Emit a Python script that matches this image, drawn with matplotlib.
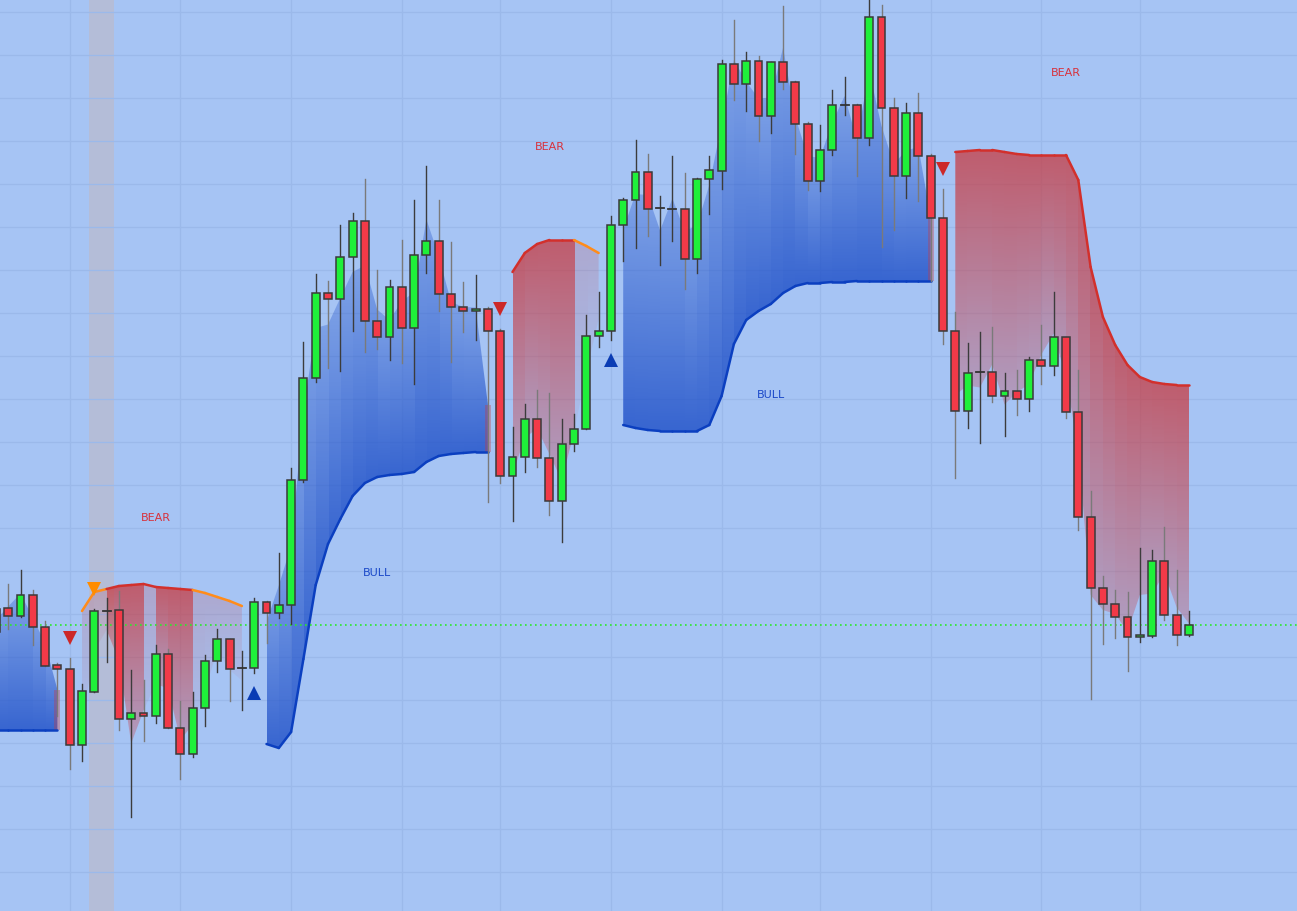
import numpy as np
import matplotlib
matplotlib.use("Agg")
import matplotlib.pyplot as plt
from matplotlib.patches import Rectangle, Polygon
from matplotlib.colors import to_rgb

# candles, bar index -1 .. 96
bars = list(range(-1, 97))
opens = [367, 391, 383, 404, 372, 334, 330, 254, 307, 388, 389, 280, 286, 283, 345, 271,
         245, 291, 338, 360, 331, 331, 397, 386, 394, 519, 621, 706, 700, 742, 778, 678,
         662, 712, 671, 744, 758, 705, 692, 688, 690, 668, 523, 542, 580, 541, 498, 555,
         570, 663, 668, 774, 799, 827, 791, 790, 790, 740, 820, 828, 935, 915, 938, 883,
         937, 917, 875, 818, 849, 894, 894, 861, 982, 891, 823, 886, 843, 781, 668, 588,
         627, 627, 603, 608, 600, 639, 633, 662, 587, 482, 411, 395, 382, 362, 363, 438,
         384, 364]
highs = [398, 415, 429, 409, 378, 336, 341, 315, 390, 401, 408, 329, 319, 354, 350, 298,
         307, 344, 370, 360, 348, 401, 398, 446, 531, 657, 725, 718, 774, 786, 820, 729,
         719, 759, 799, 833, 799, 757, 717, 724, 692, 670, 572, 595, 609, 606, 580, 585,
         684, 707, 783, 801, 859, 845, 803, 843, 826, 821, 843, 939, 979, 947, 943, 937,
         993, 918, 877, 874, 909, 922, 895, 1002, 994, 901, 896, 906, 845, 810, 687, 656,
         667, 672, 626, 629, 642, 674, 707, 662, 629, 508, 423, 409, 407, 451, 449, 472,
         429, 388]
lows = [360, 370, 382, 354, 333, 283, 230, 238, 307, 337, 269, 182, 258, 276, 271, 220,
        242, 273, 327, 298, 289, 326, 356, 381, 375, 517, 617, 631, 628, 668, 647, 650,
        639, 636, 615, 726, 688, 637, 667, 659, 497, 516, 478, 527, 532, 484, 457, 548,
        570, 652, 659, 738, 751, 763, 734, 758, 710, 726, 785, 810, 899, 888, 858, 866,
        910, 845, 809, 808, 844, 884, 823, 854, 752, 769, 801, 798, 718, 655, 521, 571,
        556, 597, 563, 584, 588, 615, 624, 581, 469, 300, 355, 361, 328, 357, 362, 379,
        354, 363]
closes = [390, 383, 404, 372, 333, 330, 254, 308, 388, 388, 280, 286, 283, 345, 271, 245,
          291, 338, 360, 330, 331, 397, 386, 394, 519, 621, 706, 700, 742, 778, 678, 662,
          712, 671, 744, 758, 705, 692, 688, 690, 668, 523, 542, 580, 541, 498, 555, 570,
          663, 668, 774, 799, 827, 790, 791, 790, 740, 820, 829, 935, 915, 938, 883, 937,
          917, 875, 818, 849, 894, 894, 861, 982, 891, 823, 886, 843, 781, 668, 588, 626,
          627, 603, 608, 600, 639, 633, 662, 587, 482, 411, 395, 382, 362, 364, 438, 384,
          364, 374]

# trailing trend lines: (direction, first bar, values)
trend_runs = [
    ("bull", -1, [269, 269, 269, 269, 269, 269]),
    ("bear", 6, [388, 407, 410, 413, 414, 415, 412, 411, 410, 409, 406, 402, 398, 393]),
    ("bull", 21, [255, 251, 267, 340, 414, 455, 480, 503, 516, 522, 524, 525, 527, 537,
                  543, 545, 546, 547, 547]),
    ("bear", 41, [727, 746, 755, 759, 759, 759, 753, 746]),
    ("bull", 50, [574, 571, 569, 568, 568, 568, 568, 574, 603, 655, 679, 688, 695, 706,
                  713, 716, 716, 717, 717, 718, 718, 718, 718, 718, 718, 718]),
    ("bear", 77, [847, 848, 849, 849, 847, 845, 844, 844, 844, 844, 819, 732, 682, 654,
                  634, 622, 617, 615, 614, 614]),
]
weak_bars = [7, 8, 16, 17, 18, 19, 47, 48]   # orange line, faint fill
faded_bars = [12]                            # faint fill only

bull_signals = [20, 49]
bear_signals = [5, 40, 76]
weak_signals = [7]
highlight = (6.6, 8.6)
last_price = 374

labels = [("BEAR", 12, 482), ("BEAR", 44, 853), ("BEAR", 86, 927),
          ("BULL", 30, 427), ("BULL", 62, 605)]

bg = "#a6c4f4"
green, red = "#1ff03a", "#f23a48"
bull_rgb, bear_rgb = to_rgb("#1f50c8"), to_rgb("#c83a40")

o = dict(zip(bars, opens))
h = dict(zip(bars, highs))
l = dict(zip(bars, lows))
c = dict(zip(bars, closes))
hl2 = {b: (h[b] + l[b]) / 2 for b in bars}

fig = plt.figure(figsize=(12.97, 9.12), dpi=100, facecolor=bg)
ax = fig.add_axes([0, 0, 1, 1], facecolor=bg)

ax.axvspan(*highlight, color="#b4bdd8", zorder=0.5, lw=0)


def run_fill(kind, start, vals):
    # one gradient image per run, each bar segment shaded from the line to hl2
    bull = kind == "bull"
    n = len(vals) - 1
    far = [hl2[start + i] for i in range(n + 1)]
    ymin = min(vals + far) - 2
    ymax = max(vals + far) + 2
    per = 24
    xs = start + (np.arange(n * per) + 0.5) / per
    ys = np.linspace(ymin, ymax, int((ymax - ymin) * 2))
    img = np.zeros((len(ys), len(xs), 4))
    img[..., :3] = bull_rgb if bull else bear_rgb
    for j, x in enumerate(xs):
        i = min(int(x - start), n - 1)
        b1 = start + i + 1
        near = min(vals[i], vals[i + 1]) if bull else max(vals[i], vals[i + 1])
        fr = max(far[i], far[i + 1]) if bull else min(far[i], far[i + 1])
        if bull:
            an, af = 0.82, 0.3
        elif b1 in weak_bars:
            an, af = 0.2, 0.05
        elif b1 in faded_bars:
            an, af = 0.22, 0.06
        else:
            an, af = 0.75, 0.28
        t = np.clip((ys - near) / (fr - near), 0, 1)
        img[:, j, 3] = an + (af - an) * t
    im = ax.imshow(img, extent=[start, start + n, ymin, ymax], origin="lower",
                   aspect="auto", interpolation="nearest", zorder=2)
    pts = [(start + i, v) for i, v in enumerate(vals)]
    pts += [(start + i, f) for i, f in reversed(list(enumerate(far)))]
    im.set_clip_path(Polygon(pts, closed=True, transform=ax.transData))


for kind, start, vals in trend_runs:
    bull = kind == "bull"
    run_fill(kind, start, vals)
    for i in range(len(vals) - 1):
        b1 = start + i + 1
        if bull:
            col = "#0b3fc0"
        elif b1 in weak_bars:
            col = "#ff8c1a"
        else:
            col = "#d2302c"
        ax.plot([b1 - 1, b1], [vals[i], vals[i + 1]], color=col, lw=1.8,
                solid_capstyle="round", zorder=3)
    if bull:
        end = start + len(vals) - 1
        if end + 1 in bear_signals:
            ax.add_patch(Rectangle((end - 0.25, vals[-1]), 0.5, hl2[end] - vals[-1],
                                   color=bear_rgb, alpha=0.35, lw=0, zorder=2.5))

ax.axhline(last_price, color="#2bea2b", lw=1.2, ls=(0, (1, 2)), zorder=3.5)

# candles
w = 0.64
for b in bars:
    up = c[b] > o[b]
    doji = c[b] == o[b]
    wick = "#3c3c3c" if (up or doji) else "#7a7a7a"
    ax.plot([b, b], [l[b], h[b]], color=wick, lw=1, zorder=4)
    if doji:
        ax.plot([b - w / 2, b + w / 2], [o[b], o[b]], color="#333333", lw=1.3, zorder=5)
    else:
        ax.add_patch(Rectangle((b - w / 2, min(o[b], c[b])), w, abs(c[b] - o[b]),
                               facecolor=green if up else red, edgecolor="#3a3a3a",
                               lw=1.1, zorder=5))

for b in bear_signals:
    ax.plot(b, h[b] + 20, marker="v", color="#cc2828", ms=10.5, mew=0, zorder=6)
for b in weak_signals:
    ax.plot(b, h[b] + 20, marker="v", color="#ff8c00", ms=10.5, mew=0, zorder=6)
for b in bull_signals:
    ax.plot(b, l[b] - 20, marker="^", color="#0a3cb4", ms=10.5, mew=0, zorder=6)

for txt, b, y in labels:
    ax.text(b, y, txt, color="#d8303a" if txt == "BEAR" else "#1a48c8", fontsize=8,
            ha="center", va="center", zorder=6)

# grid
ax.set_xticks([5, 14, 23, 32, 40, 49, 58, 66, 75, 84, 92])
ax.set_yticks(np.arange(127, 1000, 43))
ax.grid(color="#9bb9ea", lw=0.9, zorder=0)
ax.set_axisbelow(True)
ax.tick_params(length=0, labelbottom=False, labelleft=False)
for s in ax.spines.values():
    s.set_visible(False)

ax.set_xlim(-0.667, 104.78)
ax.set_ylim(88, 1000)

fig.savefig("out.png", dpi=100, facecolor=bg)
